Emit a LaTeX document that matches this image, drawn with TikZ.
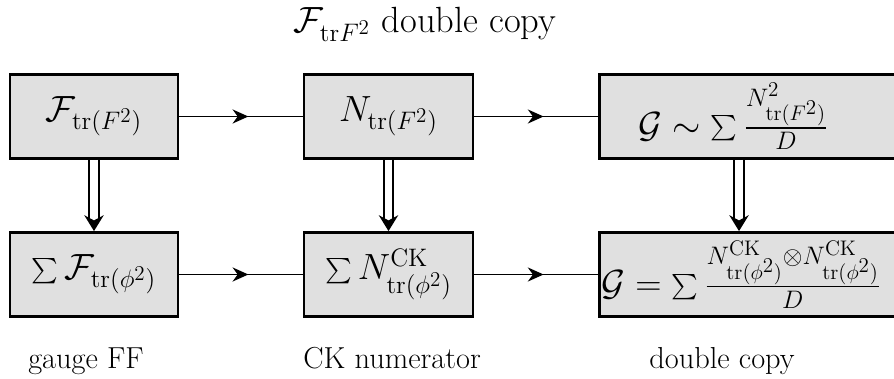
\documentclass[tikz,border=0pt]{standalone}
\usepackage{amsmath}
\usepackage{amssymb}
\usepackage{tikz}
\usetikzlibrary{arrows.meta}
\usetikzlibrary{decorations.markings}

\newcommand{\smallsum}{\mathop{\raisebox{1.4pt}{\Large$\sum$}}}

\tikzset{
  box/.style={draw,line width=1.6pt,fill=black!12,minimum height=1.68cm,font=\huge},
  flow/.style={line width=1.1pt,postaction={decorate},
    decoration={markings,mark=at position 0.56 with {\arrow{Stealth[length=9pt,width=8pt]}}}},
  copyto/.style={double,double distance=4.2pt,line width=1.1pt,-{Stealth[length=9pt,width=11pt]}},
  caption/.style={font=\LARGE,anchor=base}
}

\begin{document}
\begin{tikzpicture}
        \useasboundingbox (0,0) rectangle (17.88,7.56);

        %------------------
        % タイトル
        %------------------

        \node[caption,font=\huge,inner sep=0pt] (title) at (8.5,6.9) {$\mathcal{F}_{\mathrm{tr}F^2}$ double copy};

        %------------------
        % 上段
        %------------------

        \node[box,minimum width=3.36cm] (ff) at (1.88,5.23) {$\mathcal{F}_{\mathrm{tr}(F^2)}$};
        \node[box,minimum width=3.38cm] (num) at (7.77,5.23) {$N_{\mathrm{tr}(F^2)}$};
        \node[box,anchor=west,text width=5.6cm,align=left,inner xsep=0.78cm] (grav) at (11.96,5.23)
          {$\mathcal{G}\sim\smallsum\frac{N^2_{\mathrm{tr}(F^2)}}{D}$};

        %------------------
        % 下段
        %------------------

        \node[box,minimum width=3.36cm] (ffsum) at (1.88,2.07) {$\smallsum\mathcal{F}_{\mathrm{tr}(\phi^2)}$};
        \node[box,minimum width=3.38cm] (numck) at (7.77,2.07) {$\smallsum N^{\mathrm{CK}}_{\mathrm{tr}(\phi^2)}$};
        \node[box,anchor=west,text width=7.4cm,align=left,inner xsep=0.04cm] (dc) at (11.96,2.07)
          {$\mathcal{G}=\smallsum\frac{N^{\mathrm{CK}}_{\mathrm{tr}(\phi^2)}\otimes N^{\mathrm{CK}}_{\mathrm{tr}(\phi^2)}}{D}$};

        %------------------
        % 矢印
        %------------------

        \draw[flow] (ff) -- (num);
        \draw[flow] (num) -- (grav);
        \draw[flow] (ffsum) -- (numck);
        \draw[flow] (numck) -- (dc);

        \draw[copyto] (ff) -- (ffsum);
        \draw[copyto] (num) -- (numck);
        \draw[copyto] ([xshift=2.82cm]grav.south west) -- ([xshift=2.82cm]dc.north west);

        % ラベル
        \node[caption] (lff) at (1.72,0.2) {gauge FF};
        \node[caption] (lck) at (7.84,0.2) {CK numerator};
        \node[caption] (ldc) at (14.44,0.2) {double copy};
\end{tikzpicture}
\end{document}
